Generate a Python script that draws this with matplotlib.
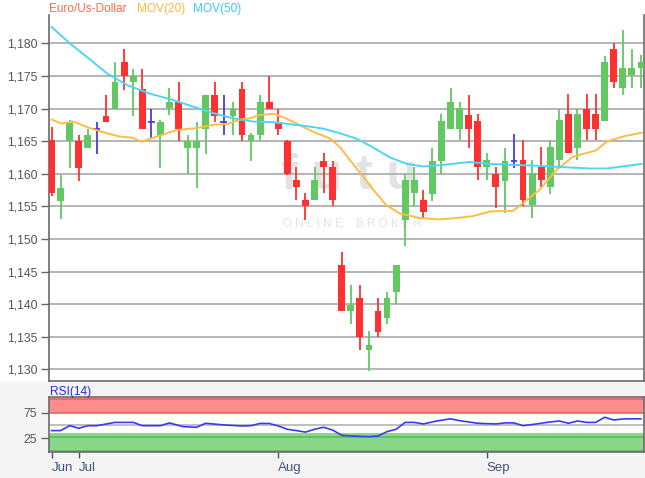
import numpy as np
import matplotlib
matplotlib.use('Agg')
import matplotlib.pyplot as plt
from matplotlib.patches import Rectangle

plt.rcParams['font.family'] = ['Liberation Sans', 'DejaVu Sans']

# ------------------------------ Data -------------------
# daily EUR/USD candles, 27 Jun .. 26 Sep (index = trading day)
opens = [1.1651, 1.1558, 1.1650, 1.1650, 1.1639, 1.1669, 1.1689, 1.1700, 1.1771, 1.1741,
         1.1730, 1.1680, 1.1660, 1.1701, 1.1710, 1.1639, 1.1639, 1.1668, 1.1721, 1.1680,
         1.1689, 1.1730, 1.1650, 1.1660, 1.1710, 1.1680, 1.1650, 1.1591, 1.1559, 1.1559,
         1.1620, 1.1610, 1.1460, 1.1389, 1.1410, 1.1329, 1.1389, 1.1379, 1.1419, 1.1529,
         1.1570, 1.1560, 1.1569, 1.1620, 1.1669, 1.1669, 1.1690, 1.1681, 1.1611, 1.1600,
         1.1589, 1.1619, 1.1621, 1.1552, 1.1610, 1.1579, 1.1621, 1.1691, 1.1640, 1.1700,
         1.1691, 1.1681, 1.1791, 1.1731, 1.1751, 1.1762]
highs = [1.1671, 1.1598, 1.1682, 1.1660, 1.1669, 1.1680, 1.1721, 1.1771, 1.1791, 1.1761,
         1.1761, 1.1700, 1.1682, 1.1731, 1.1741, 1.1660, 1.1680, 1.1721, 1.1741, 1.1721,
         1.1710, 1.1741, 1.1662, 1.1721, 1.1750, 1.1700, 1.1651, 1.1610, 1.1570, 1.1610,
         1.1631, 1.1620, 1.1480, 1.1429, 1.1429, 1.1359, 1.1410, 1.1419, 1.1460, 1.1600,
         1.1610, 1.1575, 1.1640, 1.1691, 1.1731, 1.1710, 1.1721, 1.1691, 1.1631, 1.1610,
         1.1640, 1.1661, 1.1651, 1.1621, 1.1641, 1.1651, 1.1700, 1.1722, 1.1700, 1.1722,
         1.1722, 1.1781, 1.1800, 1.1821, 1.1791, 1.1782]
lows = [1.1566, 1.1530, 1.1609, 1.1589, 1.1639, 1.1630, 1.1679, 1.1700, 1.1729, 1.1689,
        1.1668, 1.1653, 1.1609, 1.1690, 1.1650, 1.1599, 1.1578, 1.1630, 1.1680, 1.1660,
        1.1660, 1.1650, 1.1620, 1.1650, 1.1700, 1.1660, 1.1598, 1.1559, 1.1529, 1.1559,
        1.1570, 1.1550, 1.1389, 1.1369, 1.1329, 1.1298, 1.1349, 1.1369, 1.1400, 1.1489,
        1.1549, 1.1532, 1.1558, 1.1600, 1.1669, 1.1651, 1.1640, 1.1590, 1.1590, 1.1547,
        1.1540, 1.1609, 1.1550, 1.1532, 1.1579, 1.1569, 1.1610, 1.1631, 1.1621, 1.1651,
        1.1651, 1.1681, 1.1731, 1.1721, 1.1731, 1.1731]
closes = [1.1570, 1.1578, 1.1680, 1.1609, 1.1660, 1.1669, 1.1679, 1.1741, 1.1750, 1.1750,
          1.1668, 1.1680, 1.1680, 1.1710, 1.1668, 1.1650, 1.1650, 1.1721, 1.1689, 1.1680,
          1.1700, 1.1660, 1.1660, 1.1710, 1.1700, 1.1668, 1.1600, 1.1579, 1.1550, 1.1591,
          1.1610, 1.1559, 1.1389, 1.1399, 1.1349, 1.1338, 1.1358, 1.1410, 1.1460, 1.1591,
          1.1590, 1.1542, 1.1620, 1.1681, 1.1710, 1.1701, 1.1669, 1.1610, 1.1621, 1.1579,
          1.1620, 1.1619, 1.1560, 1.1601, 1.1590, 1.1641, 1.1682, 1.1631, 1.1691, 1.1669,
          1.1669, 1.1771, 1.1741, 1.1762, 1.1762, 1.1771]

ma20_x = [0.0, 1.1, 2.4, 4.2, 6.1, 7.5, 9.0, 9.9, 11.6, 13.8, 16.0, 17.8, 19.3, 20.8, 21.9,
          23.0, 24.4, 25.5, 27.0, 28.9, 30.7, 31.8, 32.9, 34.4, 35.5, 36.9, 38.4, 40.6, 42.8,
          44.6, 46.5, 48.3, 50.9, 52.0, 53.8, 55.7, 57.5, 60.1, 61.2, 63.0, 65.1]
ma20_y = [1.1683, 1.1677, 1.1680, 1.1670, 1.1662, 1.1657, 1.1655, 1.1649, 1.1657, 1.1667,
          1.1670, 1.1675, 1.1676, 1.1683, 1.1685, 1.1690, 1.1692, 1.1687, 1.1677, 1.1664,
          1.1654, 1.1641, 1.1621, 1.1595, 1.1575, 1.1552, 1.1539, 1.1532, 1.1530, 1.1532,
          1.1535, 1.1542, 1.1543, 1.1555, 1.1575, 1.1606, 1.1626, 1.1636, 1.1649, 1.1657,
          1.1663]

ma50_x = [0.0, 2.0, 3.9, 6.1, 8.3, 10.8, 13.4, 15.6, 17.8, 20.0, 22.2, 24.4, 28.1, 30.0,
          31.8, 33.6, 35.5, 37.3, 39.2, 41.0, 42.8, 46.1, 48.3, 53.8, 59.4, 61.2, 65.1]
ma50_y = [1.1825, 1.1800, 1.1779, 1.1754, 1.1736, 1.1723, 1.1713, 1.1703, 1.1693, 1.1685,
          1.1680, 1.1679, 1.1673, 1.1669, 1.1662, 1.1654, 1.1640, 1.1625, 1.1615, 1.1611,
          1.1613, 1.1618, 1.1615, 1.1612, 1.1608, 1.1608, 1.1615]

rsi_x = [0, 1, 2, 3, 4, 5, 7, 9, 10, 12, 13, 14.5, 16, 17, 19, 21, 22, 23, 24, 25, 26, 27,
         28, 29, 30, 31, 32, 33, 35, 36, 37, 38, 39, 40, 41, 42.5, 44, 45, 47, 49, 50, 51,
         52, 53.5, 54.6, 56, 57, 58, 59, 60, 61, 62, 63, 64, 65]
rsi_y = [40, 40, 49.6, 44.5, 49.6, 49.6, 56, 56, 49.6, 49.6, 55, 47.7, 46.5, 54.3, 51, 49,
         49.6, 54, 54, 49, 42.6, 40, 37, 42.6, 46.5, 41, 30.9, 29.5, 28.2, 29.5, 38, 42.6,
         56, 56, 53, 58.8, 63, 59.4, 54.3, 53, 55, 55, 49.6, 53, 56, 58.8, 54.3, 58.8, 56,
         56, 66, 60.7, 62.7, 63, 63]

month_pos = [0, 3, 25, 48]
month_lbl = ['Jun', 'Jul', 'Aug', 'Sep']
price_ticks = [1.130, 1.135, 1.140, 1.145, 1.150, 1.155, 1.160, 1.165, 1.170, 1.175, 1.180]

# ------------------------------ Layout ----------------------------------------
W, H = 645, 478
fig = plt.figure(figsize=(W / 100, H / 100), dpi=100, facecolor='white')
fig.patches.append(Rectangle((0, 0), 1, (H - 382) / H, transform=fig.transFigure,
                             facecolor='#f4f4f4', edgecolor='none', zorder=-5))

x0, x1 = 48.5, 644
ax = fig.add_axes([x0 / W, 1 - 381 / H, (x1 - x0) / W, (381 - 15) / H])
ax_r = fig.add_axes([x0 / W, 1 - 452 / H, (x1 - x0) / W, 55 / H], sharex=ax)

RED, GREEN, BLUE = '#ff3030', '#62c862', '#4a3bd9'
n = len(opens)
idx = np.arange(n)
o, h, l, c = map(np.array, (opens, highs, lows, closes))
doji = np.abs(c - o) < 5e-5
cols = np.where(doji, BLUE, np.where(c >= o, GREEN, RED))

# watermark
ax.text(0.505, 0.56, 'f u t u', transform=ax.transAxes, ha='center', va='center',
        fontsize=36, fontweight='bold', color='#e3e3e3', zorder=0)
ax.text(0.51, 0.43, 'O N L I N E    B R O K E R', transform=ax.transAxes, ha='center',
        va='center', fontsize=8.5, color='#e3e3e3', zorder=0)

# candles
ax.vlines(idx, l, h, colors=cols, linewidth=1.3, zorder=2)
body = np.maximum(np.abs(c - o), 1e-5)
ax.bar(idx[~doji], body[~doji], bottom=np.minimum(o, c)[~doji], width=0.75,
       color=cols[~doji], edgecolor='none', zorder=3)
ax.hlines(c[doji], idx[doji] - 0.38, idx[doji] + 0.38, colors=BLUE, linewidth=1.3, zorder=3)

ax.plot(ma20_x, ma20_y, color='#fbbd45', linewidth=1.4, zorder=4)
ax.plot(ma50_x, ma50_y, color='#4fd5f5', linewidth=1.4, zorder=4)

ax.set_xlim(-0.34, 65.34)
ax.set_ylim(1.12821, 1.18434)
ax.set_yticks(price_ticks)
ax.set_yticklabels([f'{v:.3f}'.replace('.', ',') for v in price_ticks])
ax.grid(axis='y', color='#b4b4b4', linewidth=1.4)
ax.set_axisbelow(True)
ax.tick_params(axis='y', length=6, width=1, color='#666666', labelcolor='#555555',
               labelsize=8.8, pad=2)
ax.tick_params(axis='x', bottom=False, labelbottom=False)
ax.spines['top'].set_visible(False)
for s in ('left', 'right', 'bottom'):
    ax.spines[s].set_color('#6a6a6a')
    ax.spines[s].set_linewidth(1.2)

# RSI panel
ax_r.axhspan(75, 103, facecolor='#ff8c8c', edgecolor='none')
ax_r.axhline(75, color='#d86a6a', linewidth=1.2)
ax_r.axhline(102, color='#d86a6a', linewidth=1.2)
ax_r.axhspan(-2, 35, facecolor='#88d888', edgecolor='none')
ax_r.axhline(28, color='#5fb85f', linewidth=1.2)
ax_r.axhline(0.5, color='#5fb85f', linewidth=1.2)
ax_r.axhline(50, color='#b4b4b4', linewidth=1.2)
ax_r.plot(rsi_x, rsi_y, color='#3a3af5', linewidth=1.2)
ax_r.set_ylim(-1.8, 105.6)
ax_r.set_yticks([25, 75])
ax_r.tick_params(axis='y', length=6, width=1, color='#666666', labelcolor='#555555',
                 labelsize=8.8, pad=2)
ax_r.set_xticks(month_pos)
ax_r.set_xticklabels(month_lbl, ha='left')
ax_r.tick_params(axis='x', length=4, width=1, color='#445577', labelcolor='#445577',
                 labelsize=9.5, pad=3)
for s in ax_r.spines.values():
    s.set_color('#6a6a6a')
    s.set_linewidth(1.2)

# header texts
fig.text(49 / W, 1 - 9 / H, 'Euro/Us-Dollar', color='#ff6a4d', fontsize=8.6, va='center')
fig.text(136.5 / W, 1 - 9 / H, 'MOV(20)', color='#fdb93a', fontsize=8.6, va='center')
fig.text(193 / W, 1 - 9 / H, 'MOV(50)', color='#3ec8f2', fontsize=8.6, va='center')
fig.text(50 / W, 1 - 391.5 / H, 'RSI(14)', color='#2a2ae8', fontsize=8.6, va='center')

fig.savefig('out.png', dpi=100, facecolor=fig.get_facecolor())
